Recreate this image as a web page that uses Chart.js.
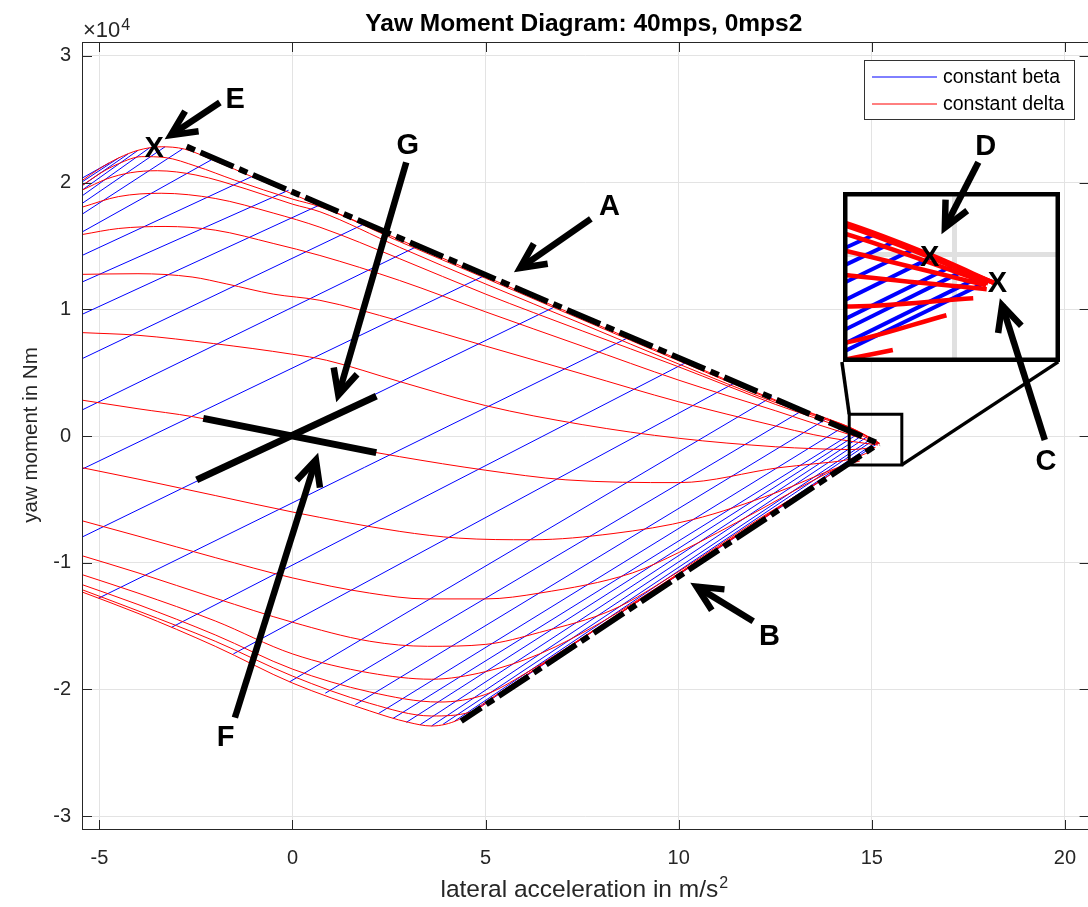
<!DOCTYPE html>
<html>
<head>
<meta charset="utf-8">
<title>Yaw Moment Diagram</title>
<script src="https://cdn.jsdelivr.net/npm/chart.js@4.4.1/dist/chart.umd.min.js"></script>
<style>
  html, body { margin: 0; padding: 0; background: #fff; }
  #stage { position: relative; width: 1088px; height: 907px; overflow: hidden; }
  #stage canvas { position: absolute; }
  #main { left: 0; top: 0; }
  #inset { left: 843px; top: 192px; }
  #marks { left: 0; top: 0; pointer-events: none; }
</style>
</head>
<body>
<div id="stage">
  <canvas id="main" width="1092" height="907"></canvas>
  <canvas id="inset" width="217" height="170"></canvas>
  <canvas id="marks" width="1088" height="907"></canvas>
</div>
<script>
const FONT = "'Liberation Sans', Arial, Helvetica, sans-serif";
const RED = '#ff0000';
const BLUE = '#0000ff';

// axes: lateral acceleration in m/s^2, yaw moment in 1e4 Nm
const xLimits = [-5.45, 20.64];
const yLimits = [-3.11, 3.11];
const xTicks = [-5, 0, 5, 10, 15, 20];
const yTicks = [-3, -2, -1, 0, 1, 2, 3];

// magnified window around the limit corner
const zoomX = [14.439, 15.532];
const zoomY = [-0.222, 0.1305];

// constant delta curves, [ay, Mz] points
const delta01 = [[-5.45,2.016],[-5.0,2.11],[-4.5,2.195],[-4.0,2.255],[-3.4,2.283],[-2.8,2.265],[-2.0,2.17],[-1.0,2.04],[0,1.91],[2.77,1.55],[5,1.258],[7.5,0.93],[10,0.604],[12.5,0.285],[13.5,0.175],[14.44,0.068],[14.88,0.0],[15.2,-0.058]];
const delta02 = [[-5.45,1.976],[-5.0,2.07],[-4.5,2.15],[-3.9,2.205],[-3.3,2.198],[-2.5,2.13],[-1.5,2.02],[0,1.87],[0.71,1.81],[2.77,1.535],[5,1.245],[7.5,0.918],[10,0.594],[12.5,0.278],[13.5,0.17],[14.44,0.066],[15.2,-0.058]];
const delta03 = [[-5.45,1.94],[-4.8,2.03],[-4.2,2.078],[-3.5,2.094],[-2.5,2.06],[-1.2,1.95],[0,1.83],[0.71,1.77],[2.77,1.49],[5,1.2],[7.5,0.885],[10,0.568],[12.5,0.265],[13.5,0.16],[14.44,0.062],[15.2,-0.058]];
const delta04 = [[-5.45,1.806],[-4.5,1.89],[-3.4,1.916],[-2,1.875],[-0.5,1.76],[0.71,1.648],[2.77,1.40],[5,1.12],[7.5,0.83],[10,0.546],[12.5,0.25],[13.5,0.145],[14.44,0.045],[15.17,-0.059]];
const delta05 = [[-5.45,1.59],[-4.5,1.638],[-3.3,1.654],[-2,1.625],[-0.5,1.52],[0.71,1.425],[2.77,1.228],[5,0.98],[7.5,0.71],[10,0.441],[12.5,0.2],[13.5,0.1],[14.44,0.01],[15.16,-0.063]];
const delta06 = [[-5.45,1.276],[-4,1.281],[-2.6,1.255],[-1.7,1.2],[-0.5,1.12],[0.71,1.071],[2.77,0.908],[5,0.71],[7.5,0.49],[10,0.27],[12.5,0.08],[13.5,0.01],[14.44,-0.041],[15.163,-0.071]];
const delta07 = [[-5.45,0.816],[-4,0.795],[-2.05,0.73],[0,0.645],[0.88,0.598],[2.77,0.43],[5,0.24],[7.5,0.09],[10,-0.018],[12.5,-0.085],[13.5,-0.1],[14.44,-0.107],[15.095,-0.09]];
const delta08 = [[-5.45,0.283],[-4,0.215],[-2.57,0.152],[0,-0.01],[2.77,-0.163],[5,-0.27],[7.08,-0.346],[10,-0.368],[12.6,-0.25],[13.5,-0.22],[14.44,-0.183],[14.96,-0.125]];
const delta09 = [[-5.45,-0.25],[-4,-0.34],[-2,-0.47],[0,-0.6],[2.78,-0.753],[4.3,-0.806],[6.2,-0.819],[8.3,-0.77],[10.35,-0.661],[12.5,-0.45],[14.2,-0.24],[14.69,-0.197]];
const delta10 = [[-5.45,-0.669],[-4,-0.79],[-2,-0.96],[0,-1.12],[2,-1.24],[3.46,-1.286],[5,-1.286],[6.4,-1.24],[8.8,-1.081],[10,-0.92],[12,-0.6],[13.3,-0.38],[14.35,-0.215]];
const delta11 = [[-5.45,-0.945],[-4,-1.08],[-2,-1.28],[0,-1.47],[2,-1.62],[3.5,-1.66],[5,-1.645],[6.4,-1.55],[8.3,-1.37],[10,-1.07],[12,-0.67],[14.0,-0.29]];
const delta12 = [[-5.45,-1.094],[-4,-1.24],[-2,-1.46],[0,-1.72],[2,-1.87],[3.6,-1.92],[5,-1.86],[6.4,-1.72],[8,-1.47],[10,-1.085],[12,-0.68],[13.6,-0.37]];
const delta13 = [[-5.45,-1.173],[-4,-1.33],[-2,-1.57],[0,-1.84],[2,-2.02],[3.8,-2.10],[5,-2.04],[6,-1.88],[8,-1.495],[10,-1.09],[12,-0.685],[13.1,-0.47]];
const delta14 = [[-5.45,-1.213],[-4,-1.38],[-2,-1.62],[0,-1.895],[2,-2.11],[3.6,-2.21],[4.6,-2.18],[5.5,-2.0],[7,-1.70],[9,-1.295],[11,-0.89],[12.5,-0.59]];
const delta15 = [[-5.45,-1.231],[-4,-1.40],[-2,-1.66],[0,-1.95],[2,-2.17],[3,-2.26],[3.6,-2.289],[4.3,-2.24],[5,-2.1],[7,-1.695],[9,-1.29],[11,-0.885],[11.8,-0.73]];
const deltaCurves = [delta01, delta02, delta03, delta04, delta05, delta06, delta07, delta08,
                     delta09, delta10, delta11, delta12, delta13, delta14, delta15];

// constant beta lines: start and end of each line
const betaX0 = [-5.45,-5.45,-5.45,-5.45,-5.45,-5.45,-5.45,-5.45,-5.45,-5.45,-5.45,-5.45,-5.45,-5.45,-5.45,
                -5.02,-3.13,-1.53,-0.07,0.85,1.63,2.23,2.60,2.95,3.30,3.60,3.90,4.20,4.60,5.50];
const betaY0 = [2.035,2.005,1.975,1.94,1.895,1.835,1.75,1.61,1.425,1.215,0.96,0.61,0.205,-0.262,-0.798,
                -1.28,-1.51,-1.72,-1.94,-2.03,-2.12,-2.19,-2.23,-2.26,-2.28,-2.289,-2.275,-2.25,-2.19,-2.0];
const betaX1 = [-4.75,-4.5,-4.25,-4.0,-3.7,-3.3,-2.85,-2.1,-1.0,-0.1,0.75,1.9,3.25,5.0,6.86,
                8.75,10.25,11.5,12.42,13.25,13.85,14.32,14.60,14.70,14.80,14.90,15.0,15.055,15.13,15.176];
const betaY1 = [2.155,2.195,2.228,2.255,2.275,2.283,2.265,2.18,2.055,1.94,1.83,1.68,1.50,1.27,1.03,
                0.785,0.59,0.427,0.31,0.21,0.14,0.082,0.043,0.028,0.013,-0.002,-0.021,-0.031,-0.045,-0.053];

// dash-dot limit lines A (upper) and B (lower)
const limitA = [[-2.74, 2.285], [15.18, -0.06]];
const limitB = [[4.37, -2.25], [15.18, -0.06]];

// cross at the origin
const crossUp = [[-2.481, -0.346], [2.171, 0.315]];
const crossDown = [[-2.31, 0.139], [2.171, -0.131]];

// magnified region outline and its connectors
const zoomBox = [[14.416,0.171],[15.778,0.171],[15.778,-0.228],[14.416,-0.228],[14.416,0.171],[15.778,0.171]];
const linkLeft = [[14.227, 0.585], [14.416, 0.171]];
const linkRight = [[19.828, 0.585], [15.778, -0.228]];

// callout arrows (tail -> tip) and letters
const arrowFrom = [[-1.88,2.632],[2.946,2.16],[7.726,1.714],[11.93,-1.462],[19.48,-0.031],[17.76,2.16],[-1.491,-2.223]];
const arrowTo = [[-3.30,2.344],[1.137,0.27],[5.744,1.294],[10.31,-1.16],[18.32,1.084],[16.81,1.596],[0.661,-0.136]];
const letterText = ['E', 'G', 'A', 'B', 'C', 'D', 'F'];
const letterAt = [[-1.486,2.672],[2.987,2.305],[8.207,1.828],[12.354,-1.567],[19.51,-0.189],[17.95,2.299],[-1.729,-2.368]];
const crossMarks = [[-3.584,2.285],[16.50,1.425],[18.256,1.218]];

const legendLabels = ['constant beta', 'constant delta'];

const pts = arr => arr.map(([x, y]) => ({ x, y }));

function meshDatasets(redWidth, blueWidth) {
  const sets = [];
  betaX0.forEach((x0, i) => {
    sets.push({
      data: [{ x: x0, y: betaY0[i] }, { x: betaX1[i], y: betaY1[i] }],
      borderColor: BLUE, borderWidth: blueWidth, order: 3
    });
  });
  deltaCurves.forEach(c => {
    sets.push({ data: pts(c), borderColor: RED, borderWidth: redWidth, cubicInterpolationMode: 'monotone', order: 2 });
  });
  return sets;
}

function decor(points, width, dash, offset) {
  return {
    data: pts(points), borderColor: '#000', borderWidth: width,
    borderDash: dash || [], borderDashOffset: offset || 0, order: 1
  };
}

const commonLine = { showLine: true, pointRadius: 0, fill: false, tension: 0 };

// axis frame, inward ticks, texts and legend for the main axes
const frame = {
  id: 'frame',
  afterDraw(chart) {
    const { ctx, chartArea: a, scales: { x, y } } = chart;
    ctx.save();
    ctx.strokeStyle = '#262626';
    ctx.lineWidth = 1;
    ctx.strokeRect(a.left + 0.5, a.top + 0.5, a.right - a.left - 1, a.bottom - a.top - 1);
    ctx.beginPath();
    xTicks.forEach(v => {
      const p = Math.round(x.getPixelForValue(v)) + 0.5;
      ctx.moveTo(p, a.bottom); ctx.lineTo(p, a.bottom - 10);
      ctx.moveTo(p, a.top); ctx.lineTo(p, a.top + 10);
    });
    yTicks.forEach(v => {
      const p = Math.round(y.getPixelForValue(v)) + 0.5;
      ctx.moveTo(a.left, p); ctx.lineTo(a.left + 10, p);
      ctx.moveTo(a.right, p); ctx.lineTo(a.right - 10, p);
    });
    ctx.stroke();

    const cx = (a.left + a.right) / 2;
    ctx.fillStyle = '#000';
    ctx.textAlign = 'center';
    ctx.textBaseline = 'alphabetic';
    ctx.font = `bold 24.5px ${FONT}`;
    ctx.fillText('Yaw Moment Diagram: 40mps, 0mps2', cx - 2, 31);

    // x label with squared unit
    ctx.font = `24.5px ${FONT}`;
    const base = 'lateral acceleration in m/s';
    const wBase = ctx.measureText(base).width;
    ctx.font = `16px ${FONT}`;
    const wSup = ctx.measureText('2').width;
    const left = cx - 2 - (wBase + wSup) / 2;
    ctx.textAlign = 'left';
    ctx.fillStyle = '#262626';
    ctx.font = `24.5px ${FONT}`;
    ctx.fillText(base, left, 897);
    ctx.font = `16px ${FONT}`;
    ctx.fillText('2', left + wBase + 1, 888);

    // y label
    ctx.save();
    ctx.translate(37, (a.top + a.bottom) / 2 - 1);
    ctx.rotate(-Math.PI / 2);
    ctx.textAlign = 'center';
    ctx.font = `20.5px ${FONT}`;
    ctx.fillText('yaw moment in Nm', 0, 0);
    ctx.restore();

    // exponent of the y axis
    ctx.textAlign = 'left';
    ctx.font = `22px ${FONT}`;
    ctx.fillText('\u00d710', 83, 37);
    const wx = ctx.measureText('\u00d710').width;
    ctx.font = `16px ${FONT}`;
    ctx.fillText('4', 83 + wx + 1, 30);

    // legend
    ctx.fillStyle = '#fff';
    ctx.fillRect(864.5, 60.5, 210, 59);
    ctx.strokeStyle = '#333';
    ctx.lineWidth = 1;
    ctx.strokeRect(864.5, 60.5, 210, 59);
    [BLUE, RED].forEach((c, i) => {
      const ly = 77 + i * 27;
      ctx.strokeStyle = c;
      ctx.lineWidth = 1;
      ctx.beginPath(); ctx.moveTo(872, ly); ctx.lineTo(937, ly); ctx.stroke();
      ctx.fillStyle = '#000';
      ctx.font = `19.5px ${FONT}`;
      ctx.textBaseline = 'middle';
      ctx.fillText(legendLabels[i], 943, ly + 0.5);
    });
    ctx.restore();

    drawMarks(chart);
  }
};

// arrows, letters and X marks sit on the top layer so they cross the inset too
function drawMarks(chart) {
  const ctx = document.getElementById('marks').getContext('2d');
  const { x, y } = chart.scales;
  const P = ([u, v]) => [x.getPixelForValue(u), y.getPixelForValue(v)];
  ctx.clearRect(0, 0, 1088, 907);
  ctx.strokeStyle = '#000';
  ctx.fillStyle = '#000';
  ctx.lineWidth = 6.5;
  ctx.lineCap = 'butt';
  ctx.lineJoin = 'miter';
  ctx.miterLimit = 10;
  arrowFrom.forEach((f, i) => {
    const [x0, y0] = P(f);
    let [x1, y1] = P(arrowTo[i]);
    const a = Math.atan2(y0 - y1, x0 - x1);
    x1 += 7 * Math.cos(a);
    y1 += 7 * Math.sin(a);
    ctx.beginPath(); ctx.moveTo(x0, y0); ctx.lineTo(x1, y1); ctx.stroke();
    ctx.beginPath();
    ctx.moveTo(x1 + 28 * Math.cos(a - 0.45), y1 + 28 * Math.sin(a - 0.45));
    ctx.lineTo(x1, y1);
    ctx.lineTo(x1 + 28 * Math.cos(a + 0.45), y1 + 28 * Math.sin(a + 0.45));
    ctx.stroke();
  });
  ctx.textAlign = 'center';
  ctx.textBaseline = 'alphabetic';
  ctx.font = `bold 29px ${FONT}`;
  letterText.forEach((t, i) => {
    const [px, py] = P(letterAt[i]);
    ctx.fillText(t, px, py + 10.4);
  });
  crossMarks.forEach(c => {
    const [px, py] = P(c);
    ctx.fillText('X', px, py + 10.4);
  });
}

const tickFont = { family: FONT, size: 20 };

new Chart(document.getElementById('main'), {
  type: 'scatter',
  data: {
    datasets: [
      ...meshDatasets(1, 1),
      decor(limitA, 5.8, [9, 6, 36, 6], 0),
      decor(limitB, 5.8, [36, 6, 9, 6], 12),
      decor(crossUp, 7),
      decor(crossDown, 7),
      decor(zoomBox, 3),
      decor(linkLeft, 3.5),
      decor(linkRight, 3.5)
    ].map(d => Object.assign({}, commonLine, d))
  },
  options: {
    responsive: false,
    animation: false,
    devicePixelRatio: 1,
    events: [],
    layout: { padding: { top: 42, right: 0, left: 0, bottom: 0 } },
    plugins: { legend: { display: false }, tooltip: { enabled: false } },
    scales: {
      x: {
        type: 'linear', min: xLimits[0], max: xLimits[1],
        afterBuildTicks: s => { s.ticks = xTicks.map(v => ({ value: v })); },
        afterFit: s => { s.height = 77; },
        grid: { color: '#e3e3e3', drawTicks: false },
        border: { display: false },
        ticks: { font: tickFont, color: '#262626', padding: 16, maxRotation: 0, autoSkip: false }
      },
      y: {
        type: 'linear', min: yLimits[0], max: yLimits[1],
        afterBuildTicks: s => { s.ticks = yTicks.map(v => ({ value: v })); },
        afterFit: s => { s.width = 82; },
        grid: { color: '#e3e3e3', drawTicks: false },
        border: { display: false },
        ticks: { font: tickFont, color: '#262626', padding: 11, autoSkip: false }
      }
    }
  },
  plugins: [frame]
});

// magnified view of the limit corner
const insetFrame = {
  id: 'insetFrame',
  beforeDraw(chart) {
    const { ctx, width, height } = chart;
    ctx.save();
    ctx.fillStyle = '#fff';
    ctx.fillRect(0, 0, width, height);
    ctx.restore();
  },
  afterDraw(chart) {
    const { ctx, width, height } = chart;
    ctx.save();
    ctx.strokeStyle = '#000';
    ctx.lineWidth = 4.5;
    ctx.strokeRect(2.25, 2.25, width - 4.5, height - 4.5);
    ctx.restore();
  }
};

new Chart(document.getElementById('inset'), {
  type: 'scatter',
  data: { datasets: meshDatasets(4.5, 4).map(d => Object.assign({}, commonLine, d)) },
  options: {
    responsive: false,
    animation: false,
    devicePixelRatio: 1,
    events: [],
    layout: { padding: 0 },
    plugins: { legend: { display: false }, tooltip: { enabled: false } },
    scales: {
      x: {
        type: 'linear', min: zoomX[0], max: zoomX[1],
        afterBuildTicks: s => { s.ticks = [{ value: 15 }]; },
        afterFit: s => { s.height = 0; },
        ticks: { display: false },
        grid: { color: '#e0e0e0', lineWidth: 5, drawTicks: false },
        border: { display: false }
      },
      y: {
        type: 'linear', min: zoomY[0], max: zoomY[1],
        afterBuildTicks: s => { s.ticks = [{ value: 0 }]; },
        afterFit: s => { s.width = 0; },
        ticks: { display: false },
        grid: { color: '#e0e0e0', lineWidth: 5, drawTicks: false },
        border: { display: false }
      }
    }
  },
  plugins: [insetFrame]
});
</script>
</body>
</html>
